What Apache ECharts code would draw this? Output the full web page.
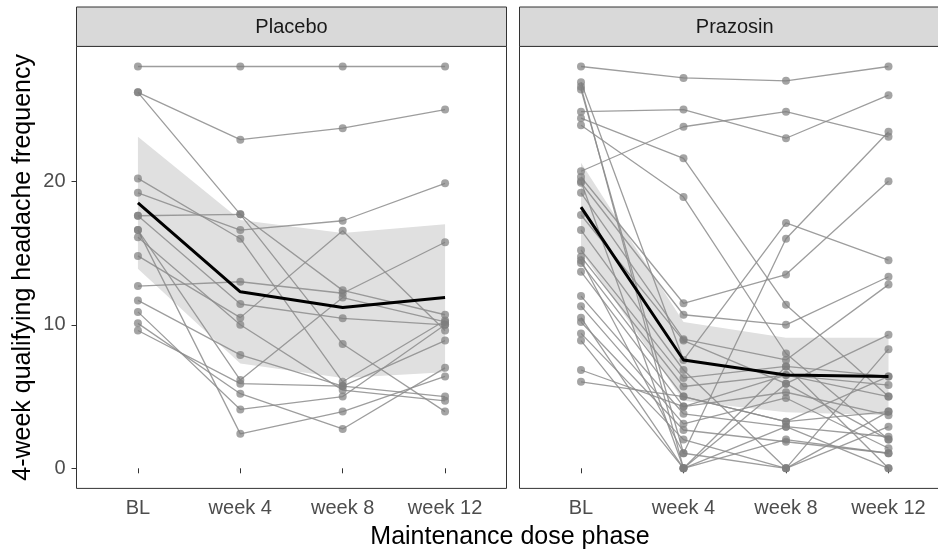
<!DOCTYPE html>
<html><head><meta charset="utf-8">
<script src="https://cdn.jsdelivr.net/npm/echarts@6/dist/echarts.min.js"></script>
<style>html,body{margin:0;padding:0;background:#fff}#c{width:938px;height:550px}</style>
</head><body><div id="c"></div>
<script>
// ---------- data ----------
const categories = ['BL', 'week 4', 'week 8', 'week 12'];
const yTicks = [0, 10, 20];
const panels = ['Placebo', 'Prazosin'];

// Placebo: one entry per subject
const placeboBL  = [28, 26.2, 26.2, 20.2, 19.2, 17.6, 17.6, 16.6, 16.1, 14.8, 12.7, 11.7, 10.9, 10.1, 9.6, 16.6];
const placeboW4  = [28, 22.9, 17.7, 16.0, 16.6, 17.7, 11.45, 2.4, 10.0, 10.5, 13.0, 7.9, 4.1, 5.2, 5.9, 6.15];
const placeboW8  = [28, 23.7, 8.66, 6.03, 17.25, 12.4, 10.45, 3.95, 5.45, 16.55, 12.2, 5.73, 5.0, 2.74, 5.73, 11.9];
const placeboW12 = [28, 25.0, 3.95, 10.3, 19.86, 10.7, 10.0, 6.4, 4.7, 9.6, 15.75, 5.0, 10.0, 7.0, 8.9, 10.2];

// Prazosin: one entry per subject
const prazosinBL  = [28, 24.85, 20.7, 24.4, 23.9, 26.9, 26.4, 20.3, 19.9, 19.2, 17.65, 16.6, 15.2, 14.75, 14.3, 13.7, 12.0, 11.3, 10.2, 9.4, 8.9, 6.85, 6.03, 20.0, 14.5, 10.5, 26.6];
const prazosinW4  = [27.2, 25.0, 23.8, 21.6, 18.9, 7.55, 1.05, 11.5, 10.7, 9.0, 8.9, 6.85, 6.3, 5.7, 5.0, 4.3, 3.8, 3.1, 2.67, 2.0, 0, 4.3, 5.0, 0, 1.05, 0, 0];
const prazosinW8  = [27.0, 23.0, 24.85, 11.4, 8.0, 17.1, 16.0, 13.5, 10.0, 7.55, 5.9, 0, 7.1, 6.5, 3.25, 5.3, 2.9, 4.9, 1.85, 0, 2.9, 6.5, 3.25, 7.1, 0, 5.9, 2.0];
const prazosinW12 = [28.0, 26.0, 23.1, 5.0, 2.0, 14.5, 23.45, 20.0, 13.35, 12.8, 9.3, 8.3, 6.4, 5.8, 3.95, 3.7, 2.2, 1.4, 1.05, 2.9, 0, 5.0, 6.4, 0, 3.95, 2.0, 1.05];

// estimated group means and confidence bands
const placeboMean  = [18.5, 12.3, 11.2, 11.9];
const placeboUpper = [23.1, 17.3, 16.4, 17.0];
const placeboLower = [13.9, 7.3, 6.3, 6.7];
const prazosinMean  = [18.2, 7.55, 6.5, 6.4];
const prazosinUpper = [21.3, 10.2, 9.1, 9.1];
const prazosinLower = [15.1, 4.7, 3.9, 3.7];

// ---------- layout ----------
const W = 938, H = 550;
const FONT = "'Liberation Sans', Arial, Helvetica, sans-serif";
const gridTop = 46.4, gridBottomY = 488.4;
const grids = [
  {left: 76.5, right: 506.5},
  {left: 519.5, right: 950}
];
const stripTop = 7;

const chart = echarts.init(document.getElementById('c'), null, {renderer: 'canvas'});

const groups = [
  {bl: placeboBL, w4: placeboW4, w8: placeboW8, w12: placeboW12, mean: placeboMean, up: placeboUpper, lo: placeboLower},
  {bl: prazosinBL, w4: prazosinW4, w8: prazosinW8, w12: prazosinW12, mean: prazosinMean, up: prazosinUpper, lo: prazosinLower}
];

const series = [];
groups.forEach((g, gi) => {
  // band
  series.push({
    type: 'custom', xAxisIndex: gi, yAxisIndex: gi, z: 1, silent: true, clip: false,
    data: [[2.5, 10]],
    renderItem: (params, api) => {
      const pts = [];
      g.up.forEach((v, i) => pts.push(api.coord([i + 1, v])));
      for (let i = g.lo.length - 1; i >= 0; i--) pts.push(api.coord([i + 1, g.lo[i]]));
      return {type: 'polygon', shape: {points: pts}, style: {fill: '#e0e0e0'}};
    }
  });
  // subjects
  g.bl.forEach((v, i) => {
    const vals = [g.bl[i], g.w4[i], g.w8[i], g.w12[i]];
    series.push({
      type: 'line', xAxisIndex: gi, yAxisIndex: gi, z: 3, silent: true,
      data: vals.map((y, k) => [k + 1, y]),
      symbol: 'circle', symbolSize: 8, showSymbol: true,
      lineStyle: {color: 'rgba(140,140,140,0.85)', width: 1.3},
      itemStyle: {color: 'rgba(125,125,125,0.7)', borderWidth: 0},
      animation: false
    });
  });
  // mean line
  series.push({
    type: 'line', xAxisIndex: gi, yAxisIndex: gi, z: 5, silent: true,
    data: g.mean.map((y, k) => [k + 1, y]),
    symbol: 'none', lineStyle: {color: '#000', width: 3}, animation: false
  });
});

const gridOpts = grids.map(gr => ({
  left: gr.left, right: W - gr.right, top: gridTop, bottom: H - gridBottomY,
  show: true, borderColor: '#333', borderWidth: 1, backgroundColor: '#fff',
  containLabel: false, outerBoundsMode: 'none'
}));

const xAxes = grids.map((gr, gi) => ({
  type: 'value', gridIndex: gi, min: 0.4, max: 4.6,
  axisLine: {show: false},
  splitLine: {show: false},
  axisTick: {show: true, length: 5, lineStyle: {color: '#333', width: 1}, customValues: [1, 2, 3, 4]},
  axisLabel: {show: true, customValues: [1, 2, 3, 4], margin: 10, fontSize: 20, color: '#4d4d4d', fontFamily: FONT,
    formatter: v => categories[Math.round(v) - 1] || ''}
}));

const yAxes = grids.map((gr, gi) => ({
  type: 'value', gridIndex: gi, min: -1.4, max: 29.4,
  axisLine: {show: false},
  splitLine: {show: false},
  axisTick: {show: gi === 0, length: 5, lineStyle: {color: '#333', width: 1}, customValues: yTicks},
  axisLabel: {show: gi === 0, customValues: yTicks, margin: 11, fontSize: 20, color: '#4d4d4d', fontFamily: FONT}
}));

const graphic = [];
grids.forEach((gr, gi) => {
  graphic.push({
    type: 'rect', z: 10, silent: true,
    shape: {x: gr.left, y: stripTop, width: gr.right - gr.left, height: gridTop - stripTop},
    style: {fill: '#d9d9d9', stroke: '#333', lineWidth: 1}
  });
  graphic.push({
    type: 'text', z: 11, silent: true,
    x: (gr.left + Math.min(gr.right, 950)) / 2, y: (stripTop + gridTop) / 2 + 1,
    style: {text: panels[gi], fontSize: 20, fontFamily: FONT, fill: '#1a1a1a', align: 'center', verticalAlign: 'middle'}
  });
});
graphic.push({
  type: 'text', z: 11, silent: true, x: 510, y: 537,
  style: {text: 'Maintenance dose phase', fontSize: 25, fontFamily: FONT, fill: '#000', align: 'center', verticalAlign: 'middle'}
});
graphic.push({
  type: 'text', z: 11, silent: true, x: 23, y: (gridTop + gridBottomY) / 2, rotation: Math.PI / 2,
  style: {text: '4-week qualifying headache frequency', fontSize: 25, fontFamily: FONT, fill: '#000', align: 'center', verticalAlign: 'middle'}
});

chart.setOption({
  backgroundColor: '#fff',
  animation: false,
  grid: gridOpts,
  xAxis: xAxes,
  yAxis: yAxes,
  series: series,
  graphic: graphic
});
</script>
</body></html>
